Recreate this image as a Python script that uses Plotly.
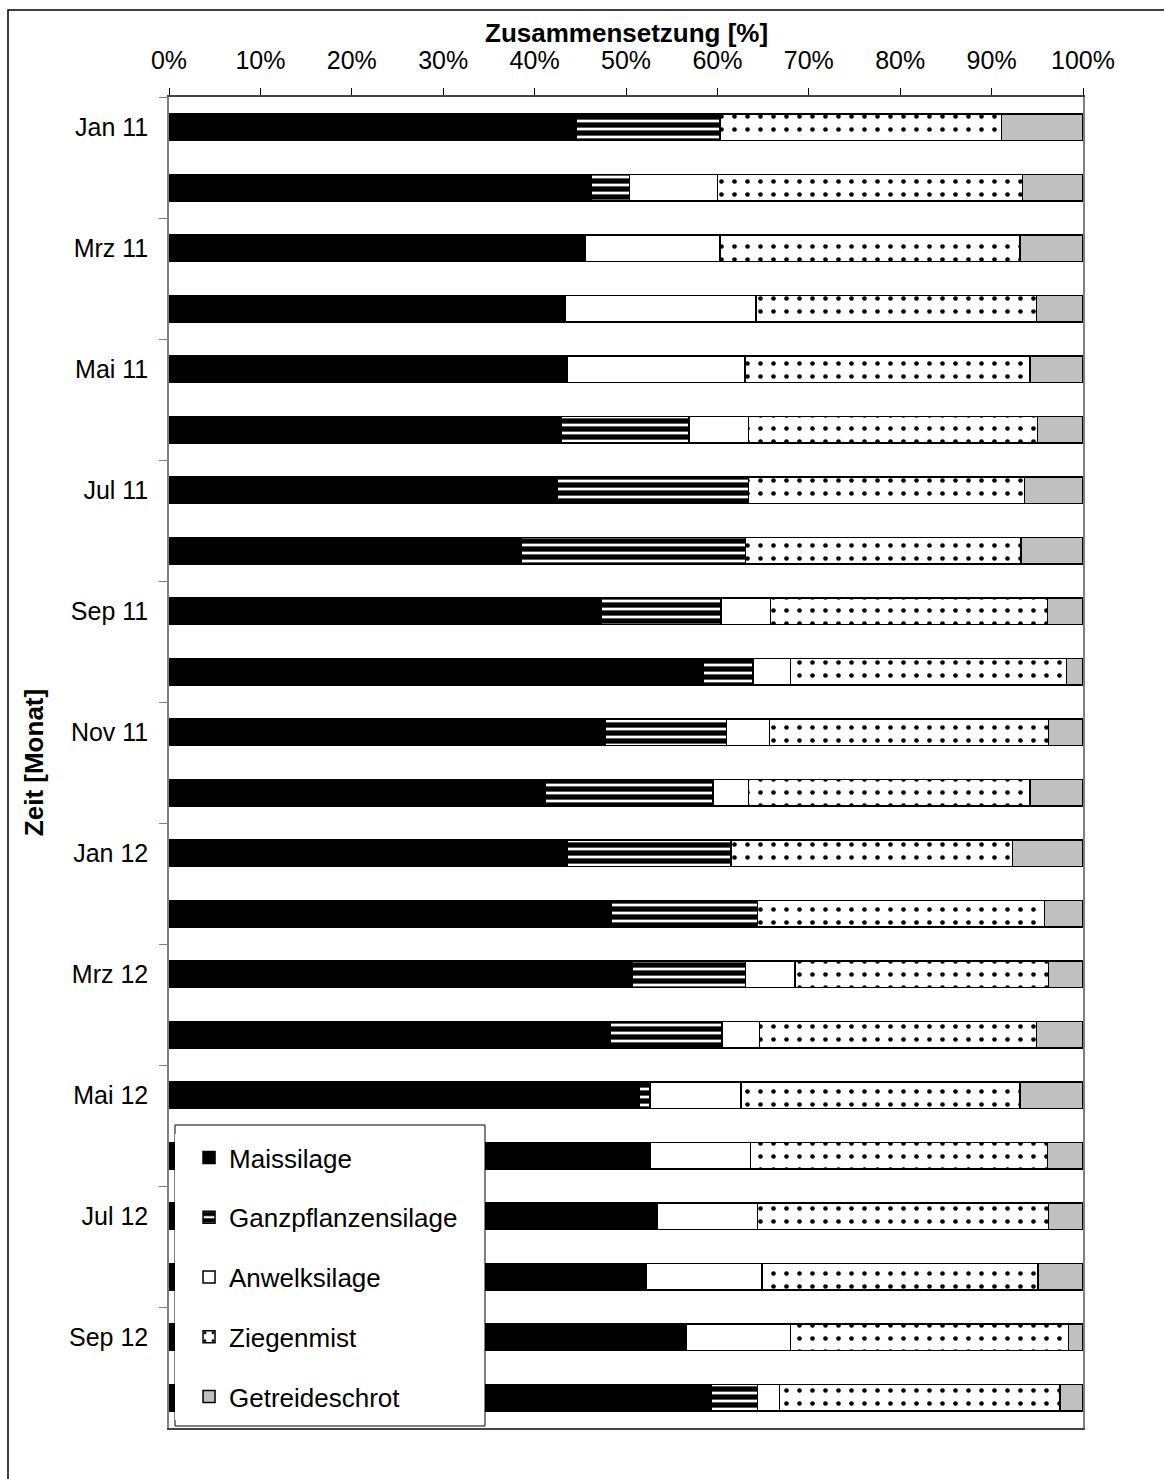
import plotly.graph_objects as go

# Monthly composition of the substrate feed (percent of total)
monate = ["Jan 11", "Feb 11", "Mrz 11", "Apr 11", "Mai 11", "Jun 11",
          "Jul 11", "Aug 11", "Sep 11", "Okt 11", "Nov 11", "Dez 11",
          "Jan 12", "Feb 12", "Mrz 12", "Apr 12", "Mai 12", "Jun 12",
          "Jul 12", "Aug 12", "Sep 12", "Okt 12"]

maissilage = [44.6, 46.2, 45.5, 43.3, 43.6, 42.9, 42.5, 38.5, 47.3, 58.4, 47.7,
              41.2, 43.6, 48.4, 50.7, 48.3, 51.4, 52.7, 53.4, 52.2, 56.6, 59.3]
ganzpflanzensilage = [15.7, 4.2, 0, 0, 0, 14.0, 20.9, 24.6, 13.1, 5.5, 13.3,
                      18.3, 17.9, 16.0, 12.4, 12.2, 1.2, 0, 0, 0, 0, 5.1]
anwelksilage = [0, 9.6, 14.8, 20.9, 19.4, 6.5, 0, 0, 5.4, 4.1, 4.7,
                3.9, 0, 0, 5.4, 4.1, 10.0, 10.9, 11.0, 12.7, 11.4, 2.4]
ziegenmist = [30.8, 33.4, 32.8, 30.7, 31.2, 31.6, 30.2, 30.1, 30.3, 30.2, 30.5,
              30.8, 30.8, 31.4, 27.7, 30.3, 30.5, 32.5, 31.8, 30.2, 30.4, 30.7]
getreideschrot = [8.9, 6.6, 6.9, 5.1, 5.8, 5.0, 6.4, 6.8, 3.9, 1.8, 3.8,
                  5.8, 7.7, 4.2, 3.8, 5.1, 6.9, 3.9, 3.8, 4.9, 1.6, 2.5]

FONT = "Liberation Sans, Arial, sans-serif"

series = [
    ("Maissilage", maissilage, "black", dict(shape="")),
    ("Ganzpflanzensilage", ganzpflanzensilage, "white",
     dict(shape="-", fgcolor="black", bgcolor="white", fgopacity=1,
          size=8, solidity=0.66)),
    ("Anwelksilage", anwelksilage, "white", dict(shape="")),
    ("Ziegenmist", ziegenmist, "white",
     dict(shape=".", fgcolor="black", bgcolor="white", fgopacity=1,
          size=13, solidity=0.1)),
    ("Getreideschrot", getreideschrot, "#c0c0c0", dict(shape="")),
]

fig = go.Figure()
for name, vals, color, pattern in series:
    fig.add_trace(go.Bar(
        name=name,
        y=monate,
        x=[v if v else None for v in vals],
        orientation="h",
        legendgroup=name,
        marker=dict(color=color, line=dict(color="black", width=1.5),
                    pattern=pattern),
    ))

fig.update_layout(
    width=1164, height=1479,
    margin=dict(l=169, r=81, t=97, b=51),
    barmode="stack",
    bargap=0.57,
    paper_bgcolor="white",
    plot_bgcolor="white",
    font=dict(family=FONT, size=25, color="black"),
    xaxis=dict(
        side="top",
        range=[0, 100],
        tickmode="array",
        tickvals=list(range(0, 101, 10)),
        ticktext=[f"{v}%" for v in range(0, 101, 10)],
        ticks="outside", ticklen=7, tickcolor="black", tickwidth=1,
        ticklabelstandoff=9,
        tickfont=dict(size=25),
        showgrid=False, zeroline=False,
        showline=True, linecolor="#444444", linewidth=1.5, mirror=True,
    ),
    yaxis=dict(
        type="category",
        autorange="reversed",
        tickmode="linear", tick0=0, dtick=2,
        tickson="boundaries",
        ticks="outside", ticklen=8, tickcolor="#808080", tickwidth=1,
        ticklabelstandoff=14,
        tickfont=dict(size=25),
        showgrid=False, zeroline=False,
        showline=True, linecolor="#808080", linewidth=1.5, mirror=True,
        title=dict(text="<b>Zeit [Monat]</b>", standoff=18,
                   font=dict(size=26)),
    ),
    legend=dict(
        x=0.0066, y=0.006, xanchor="left", yanchor="bottom",
        bgcolor="white", borderwidth=0,
        font=dict(size=26, family=FONT),
        traceorder="grouped", tracegroupgap=23,
        itemwidth=30, indentation=14,
    ),
    showlegend=True,
)

# Legend frame (white box with black border over the lower bars)
fig.add_shape(type="rect", xref="paper", yref="paper",
              x0=(175 - 169) / 914, x1=(485 - 169) / 914,
              y0=(1428 - 1426) / 1331, y1=(1428 - 1125) / 1331,
              line=dict(color="black", width=1), fillcolor="white",
              layer="above")

# Horizontal axis title above the percentage labels
fig.add_annotation(text="<b>Zusammensetzung [%]</b>", xref="paper", yref="paper",
                   x=0.5, y=(1428 - 33) / 1331, xanchor="center", yanchor="middle",
                   showarrow=False, font=dict(size=26, family=FONT, color="black"))

# Outer frame around the whole chart
fig.add_shape(type="rect", xref="paper", yref="paper",
              x0=(8 - 169) / 914, x1=(1175 - 169) / 914,
              y0=(1428 - 1490) / 1331, y1=(1428 - 10) / 1331,
              line=dict(color="black", width=1.5), fillcolor="rgba(0,0,0,0)",
              layer="below")

fig.write_html("out.html")
